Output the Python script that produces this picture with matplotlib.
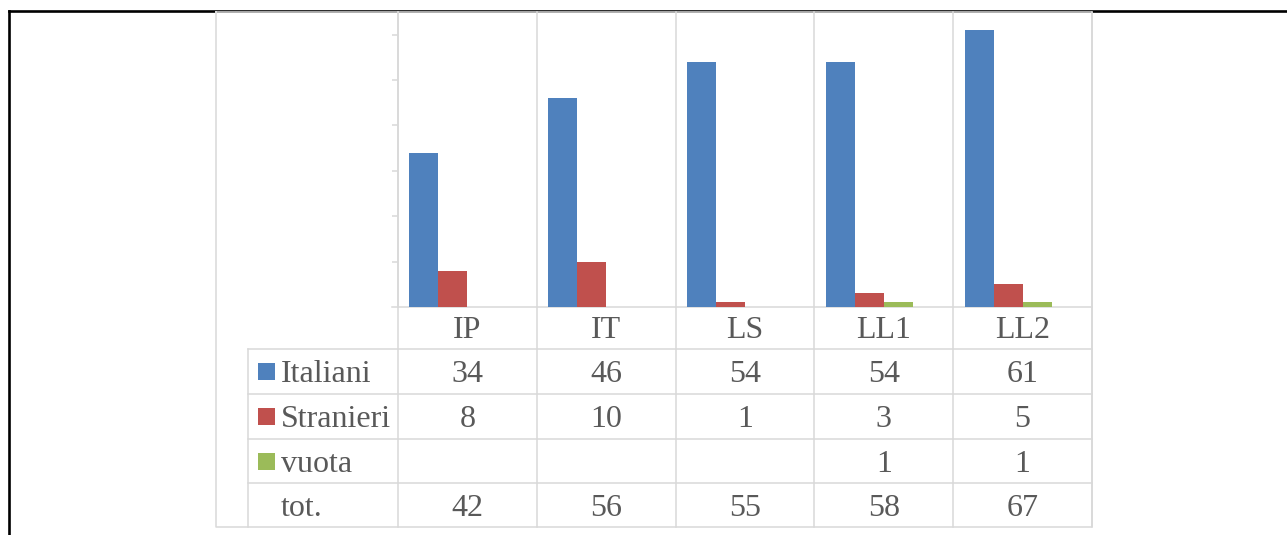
import matplotlib.pyplot as plt
import numpy as np
from matplotlib.patches import Rectangle

# Data: students per school type
categories = ["IP", "IT", "LS", "LL1", "LL2"]
italiani = [34, 46, 54, 54, 61]
stranieri = [8, 10, 1, 3, 5]
vuota = [None, None, None, 1, 1]
totale = [42, 56, 55, 58, 67]

series_names = ["Italiani", "Stranieri", "vuota", "tot."]
series_values = [italiani, stranieri, vuota, totale]
series_colors = ["#4F81BD", "#C0504D", "#9BBB59", None]

W, H = 1287, 535
GRID = "#D9D9D9"
TEXT = "#595959"
FONT = "Liberation Serif"
FS = 23

# layout in pixels (origin top-left)
plot_left, plot_right = 398, 1092
plot_top, plot_bottom = 12, 307
row_edges = [307, 349, 394, 439, 483, 527]
label_left = 248
frame_left = 216
base_shift = 10.5  # baseline offset below the row centre

fig = plt.figure(figsize=(W / 100, H / 100), dpi=100)

# background layer for frames and the data table
bg = fig.add_axes([0, 0, 1, 1], zorder=0)
bg.set_xlim(0, W)
bg.set_ylim(H, 0)
bg.axis("off")

# bar chart area
ax = fig.add_axes([plot_left / W, (H - plot_bottom) / H,
                   (plot_right - plot_left) / W, (plot_bottom - plot_top) / H], zorder=1)
ax.patch.set_alpha(0)

n = len(categories)
x = np.arange(n)
bar_w = 0.209
for i, (vals, color) in enumerate(zip(series_values, series_colors)):
    if color is None:
        continue  # the total series has no fill
    heights = [v if v is not None else 0 for v in vals]
    ax.bar(x + (i - 1.5) * bar_w, heights, width=bar_w, color=color, linewidth=0)

ax.set_xlim(-0.5, n - 0.5)
ax.set_ylim(0, 65)
ax.set_yticks(range(10, 61, 10))
ax.set_xticks([])
ax.tick_params(axis="y", direction="out", length=4.3, width=1.1, color=GRID, labelleft=False)
for side in ["top", "right", "bottom"]:
    ax.spines[side].set_visible(False)
ax.spines["left"].set_color(GRID)
ax.spines["left"].set_linewidth(1.1)

# outer page border
bg.plot([9, W], [11, 11], color="black", lw=1.9, solid_capstyle="projecting")
bg.plot([9, 9], [11, H], color="black", lw=1.9, solid_capstyle="projecting")

# chart frame
bg.plot([frame_left, plot_right, plot_right, frame_left, frame_left],
        [plot_top, plot_top, 527, 527, plot_top], color=GRID, lw=1.1)

# table grid
col_w = (plot_right - plot_left) / n
bg.plot([392, plot_right], [plot_bottom, plot_bottom], color=GRID, lw=1.1)
for y in row_edges[1:-1]:
    bg.plot([label_left, plot_right], [y, y], color=GRID, lw=1.1)
bg.plot([label_left, label_left], [row_edges[1], 527], color=GRID, lw=1.1)
for k in range(n + 1):
    xk = plot_left + k * col_w
    bg.plot([xk, xk], [plot_top, 527], color=GRID, lw=1.1)

# category labels
head_y = (row_edges[0] + row_edges[1]) / 2
for k, cat in enumerate(categories):
    bg.text(plot_left + (k + 0.5) * col_w, head_y + base_shift, cat, ha="center",
            va="baseline", fontsize=FS, family=FONT, color=TEXT)

# table rows with legend keys
for r, (name, vals, color) in enumerate(zip(series_names, series_values, series_colors)):
    yc = (row_edges[r + 1] + row_edges[r + 2]) / 2
    if color is not None:
        bg.add_patch(Rectangle((258, yc - 8.5), 17, 17, color=color, lw=0))
    bg.text(281, yc + base_shift, name, ha="left", va="baseline", fontsize=FS,
            family=FONT, color=TEXT)
    for k, v in enumerate(vals):
        if v is None:
            continue
        bg.text(plot_left + (k + 0.5) * col_w, yc + base_shift, str(v), ha="center",
                va="baseline", fontsize=FS, family=FONT, color=TEXT)

fig.savefig("out.png", dpi=100)
